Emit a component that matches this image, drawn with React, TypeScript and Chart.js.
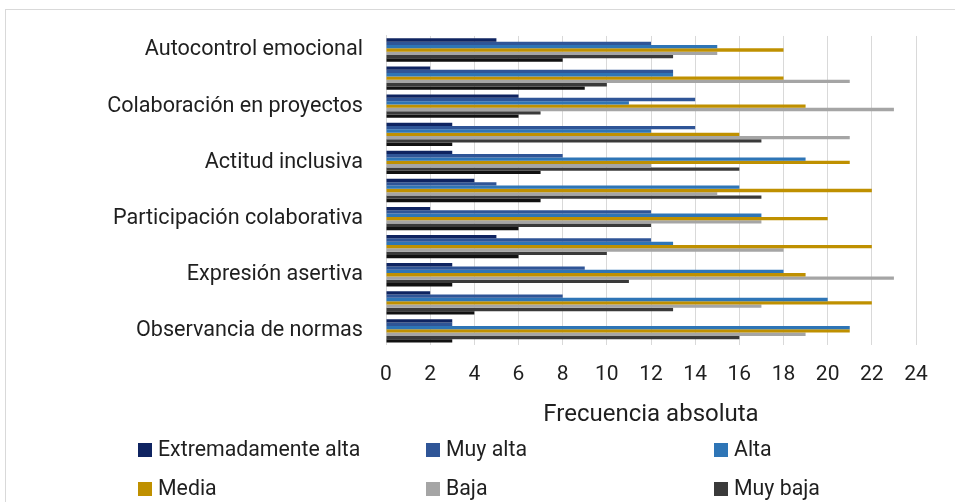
import React, { useEffect, useRef } from "react";
import { Chart, registerables } from "chart.js";

Chart.register(...registerables);

const categories = [
  "Autocontrol emocional",
  "",
  "Colaboración en proyectos",
  "",
  "Actitud inclusiva",
  "",
  "Participación colaborativa",
  "",
  "Expresión asertiva",
  "",
  "Observancia de normas",
];

const seriesNames = [
  "Extremadamente alta",
  "Muy alta",
  "Alta",
  "Media",
  "Baja",
  "Muy baja",
  "Extremadamente baja",
];

const extremadamenteAlta = [5, 2, 6, 3, 3, 4, 2, 5, 3, 2, 3];
const muyAlta = [12, 13, 14, 14, 8, 5, 12, 12, 9, 8, 3];
const alta = [15, 13, 11, 12, 19, 16, 17, 13, 18, 20, 21];
const media = [18, 18, 19, 16, 21, 22, 20, 22, 19, 22, 21];
const baja = [15, 21, 23, 21, 12, 15, 17, 18, 23, 17, 19];
const muyBaja = [13, 10, 7, 17, 16, 17, 12, 10, 11, 13, 16];
const extremadamenteBaja = [8, 9, 6, 3, 7, 7, 6, 6, 3, 4, 3];

const seriesValues = [extremadamenteAlta, muyAlta, alta, media, baja, muyBaja, extremadamenteBaja];
const seriesColors = ["#0f2461", "#2f5597", "#2e75b6", "#bf9000", "#a5a5a5", "#3a3a3a", "#111111"];

const legendCount = 6;
const xTitle = "Frecuencia absoluta";
const xMin = 0;
const xMax = 24;
const xStep = 2;

const FONT = "Roboto";
const TEXT = "#1f1f1f";

const legendPlugin = {
  id: "gridLegend",
  afterDraw(chart: any) {
    const ctx = chart.ctx;
    const cols = [138, 426, 714];
    const rows = [450, 489];
    const box = 14;
    ctx.save();
    ctx.font = `21.3px ${FONT}`;
    ctx.textBaseline = "middle";
    ctx.textAlign = "left";
    for (let i = 0; i < legendCount; i++) {
      const ds = chart.data.datasets[i];
      const x = cols[i % 3];
      const y = rows[Math.floor(i / 3)];
      ctx.fillStyle = ds.backgroundColor;
      ctx.fillRect(x, y - box / 2, box, box);
      ctx.fillStyle = TEXT;
      ctx.fillText(ds.label, x + box + 6, y + 1);
    }
    ctx.restore();
  },
};

export default function App() {
  const ref = useRef<HTMLCanvasElement | null>(null);

  useEffect(() => {
    document.body.style.margin = "0";
    const canvas = ref.current;
    if (!canvas) return;
    const chart = new Chart(canvas, {
      type: "bar",
      data: {
        labels: categories,
        datasets: seriesNames.map((name, i) => ({
          label: name,
          data: seriesValues[i],
          backgroundColor: seriesColors[i],
          borderWidth: 0,
          barPercentage: 1,
          categoryPercentage: 0.83,
        })),
      },
      options: {
        indexAxis: "y",
        animation: false,
        responsive: false,
        devicePixelRatio: 1,
        layout: { padding: { top: 34, right: 39, bottom: 67, left: 0 } },
        plugins: {
          legend: { display: false },
          tooltip: { enabled: false },
        },
        scales: {
          x: {
            min: xMin,
            max: xMax,
            ticks: {
              stepSize: xStep,
              color: TEXT,
              font: { family: FONT, size: 21 },
              padding: 17,
              maxRotation: 0,
            },
            grid: { color: "#d9d9d9", lineWidth: 1, drawTicks: false },
            border: { display: false },
            title: {
              display: true,
              text: xTitle,
              color: TEXT,
              font: { family: FONT, size: 24 },
              padding: { top: 0, bottom: 6 },
            },
            afterFit: (s: any) => {
              s.height = 90;
            },
          },
          y: {
            ticks: {
              autoSkip: false,
              color: TEXT,
              font: { family: FONT, size: 21.6 },
              padding: 23,
            },
            grid: { display: false, drawTicks: false },
            border: { display: true, color: "#d9d9d9" },
            afterFit: (s: any) => {
              s.width = 386;
            },
          },
        },
      },
      plugins: [legendPlugin],
    });
    return () => chart.destroy();
  }, []);

  return (
    <div style={{ position: "relative", width: 955, height: 502, overflow: "hidden", background: "#fff" }}>
      <div
        style={{
          position: "absolute",
          left: 5,
          top: 9,
          width: 980,
          height: 520,
          border: "1px solid #d9d9d9",
          boxSizing: "border-box",
        }}
      />
      <canvas ref={ref} width={955} height={502} style={{ position: "absolute", left: 0, top: 0, width: 955, height: 502 }} />
    </div>
  );
}
